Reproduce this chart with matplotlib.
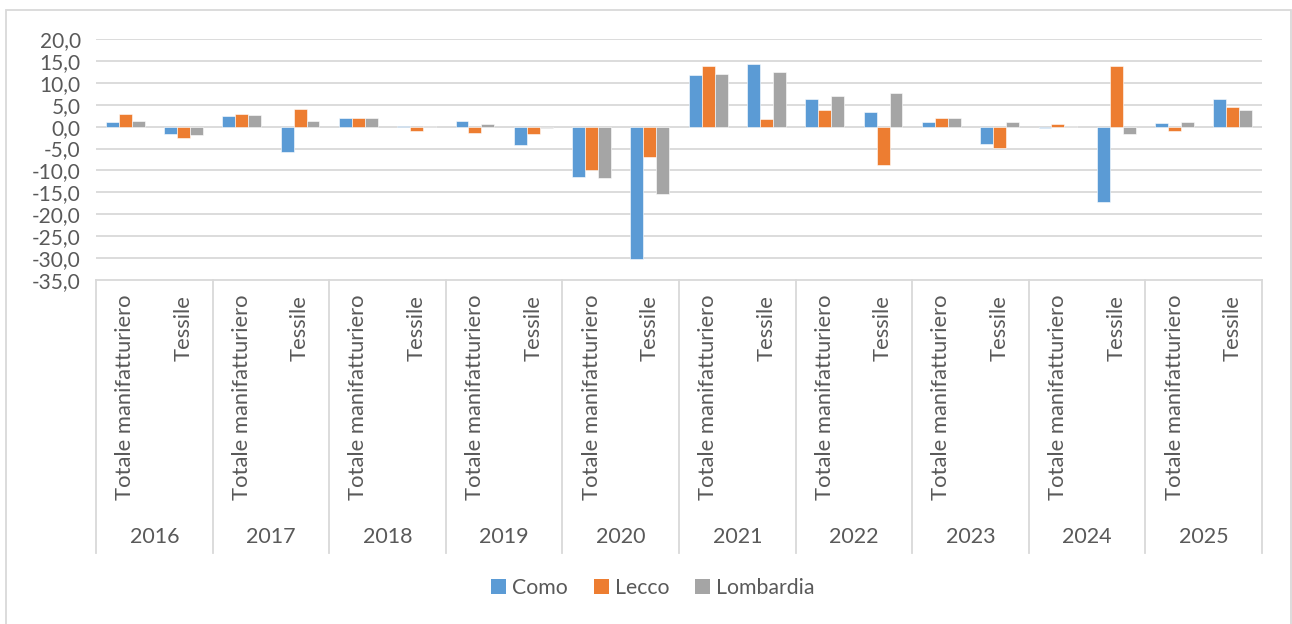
import matplotlib
matplotlib.use("Agg")
import matplotlib.pyplot as plt
import numpy as np
from matplotlib.patches import Rectangle, Patch
from matplotlib.lines import Line2D

years = ["2016", "2017", "2018", "2019", "2020", "2021", "2022", "2023", "2024", "2025"]
sectors = ["Totale manifatturiero", "Tessile"]
series_names = ["Como", "Lecco", "Lombardia"]
colors = ["#5B9BD5", "#ED7D31", "#A5A5A5"]

como = [1.1, -1.6, 2.5, -5.9, 2.0, 0.2, 1.3, -4.2, -11.4, -30.2,
        11.7, 14.4, 6.3, 3.3, 1.1, -4.0, -0.4, -17.3, 0.9, 6.3]
lecco = [2.8, -2.6, 2.8, 4.1, 2.0, -0.9, -1.5, -1.7, -9.9, -6.9,
         13.8, 1.7, 3.8, -8.8, 1.9, -4.9, 0.6, 13.8, -1.1, 4.5]
lombardia = [1.3, -2.0, 2.6, 1.3, 2.0, 0.1, 0.6, -0.4, -11.7, -15.3,
             12.0, 12.4, 7.1, 7.7, 1.9, 1.1, 0.1, -1.6, 1.0, 3.9]
yticks = [20, 15, 10, 5, 0, -5, -10, -15, -20, -25, -30, -35]

W, H = 1292, 624
fig = plt.figure(figsize=(W / 100, H / 100), dpi=100)
plt.rcParams['font.family'] = ['Lato', 'DejaVu Sans']
txt = "#595959"
grid = "#D9D9D9"

# outer chart border
fig.patches.append(Rectangle((6 / W, -0.05), (1291 - 6) / W, 1.05 - 10 / H,
                             transform=fig.transFigure, fill=False,
                             edgecolor=grid, linewidth=1.3))

left, right, top, bottom = 96, 1262, 39, 280
ax = fig.add_axes([left / W, 1 - bottom / H, (right - left) / W, (bottom - top) / H])

n = len(years) * len(sectors)
x = np.arange(n)
bw = 0.222
for i, (vals, c, nm) in enumerate(zip([como, lecco, lombardia], colors, series_names)):
    ax.bar(x + (i - 1) * bw, vals, width=bw, color=c, label=nm,
           edgecolor="white", linewidth=0.4, zorder=3)

ax.set_xlim(-0.5, n - 0.5)
ax.set_ylim(-35, 20)
ax.set_yticks(yticks)
ax.set_yticklabels([f"{v:.1f}".replace(".", ",") for v in yticks], fontsize=15, color=txt)
ax.tick_params(axis="y", length=0, pad=11)
ax.set_xticks([])
for y in yticks:
    if y != -35:
        ax.axhline(y, color=grid, linewidth=1.3, zorder=1)
for s in ["top", "right", "left"]:
    ax.spines[s].set_visible(False)
ax.spines["bottom"].set_color(grid)
ax.spines["bottom"].set_linewidth(1.3)

ax_h = bottom - top
ybot = (bottom - 553) / ax_h
trans = ax.get_xaxis_transform()
for k in range(len(years) + 1):
    xb = 2 * k - 0.5
    ax.add_line(Line2D([xb, xb], [0, ybot], transform=trans, color=grid,
                       linewidth=1.3, clip_on=False))

ylab = (bottom - 295) / ax_h
yyear = (bottom - 537) / ax_h
for j in range(n):
    ax.text(x[j], ylab, sectors[j % 2], rotation=90, ha="center", va="top",
            transform=trans, fontsize=15.8, color=txt)
for k, yr in enumerate(years):
    ax.text(2 * k + 0.5, yyear, yr, ha="center", va="center",
            transform=trans, fontsize=15.5, color=txt)

handles = [Patch(facecolor=c) for c in colors]
fig.legend(handles, series_names, loc="center", bbox_to_anchor=(653 / W, 1 - 588 / H),
           ncol=3, frameon=False, fontsize=15.3, labelcolor=txt,
           handlelength=0.7, handleheight=0.7, handletextpad=0.3, columnspacing=1.2)

fig.savefig("out.png", dpi=100)
